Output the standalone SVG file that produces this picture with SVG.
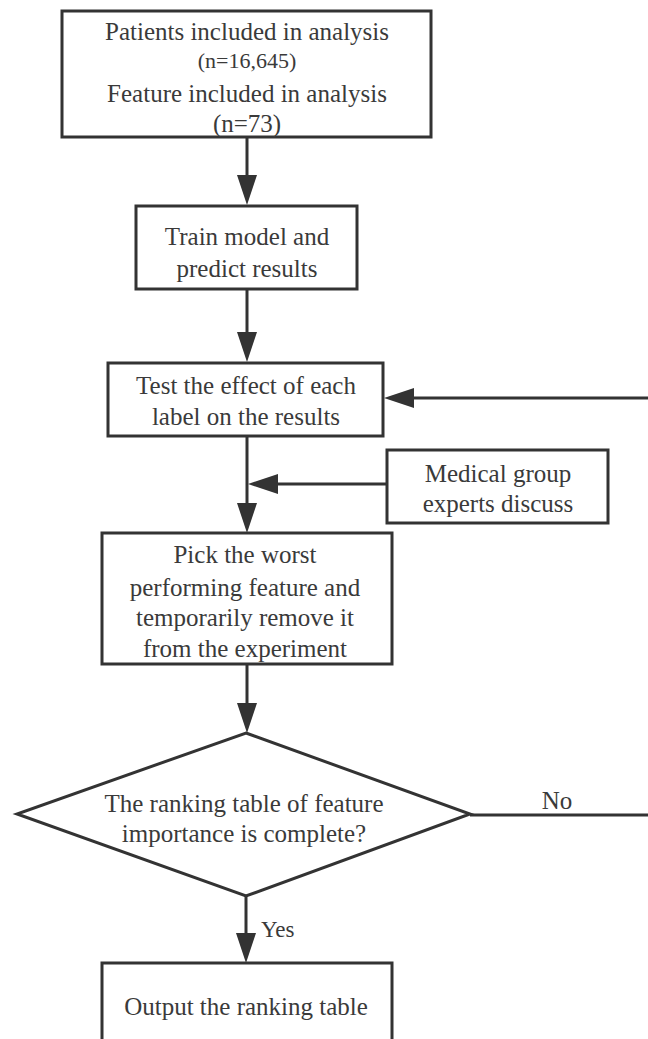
<svg xmlns="http://www.w3.org/2000/svg" width="648" height="1039" viewBox="0 0 648 1039">
<style>
.box{fill:#fff;stroke:#333;stroke-width:3}
.con{fill:none;stroke:#333;stroke-width:3}
text{font-family:"Liberation Serif","Times New Roman",serif;font-size:25px;fill:#3a3a3a;text-anchor:middle}
.sm{font-size:22px}
</style>
<defs>
<marker id="ah" markerUnits="userSpaceOnUse" markerWidth="30" markerHeight="20" refX="20" refY="10" orient="auto" viewBox="0 0 30 20">
<path d="M0,0 L30,10 L0,20 z" fill="#333"/>
</marker>
</defs>
<rect width="648" height="1039" fill="#fff"/>
<g id="connectors">
<line class="con" x1="247" y1="137" x2="247" y2="195" marker-end="url(#ah)"/>
<line class="con" x1="247" y1="289" x2="247" y2="352" marker-end="url(#ah)"/>
<line class="con" x1="247" y1="436" x2="247" y2="523" marker-end="url(#ah)"/>
<line class="con" x1="648" y1="398" x2="394" y2="398" marker-end="url(#ah)"/>
<line class="con" x1="387" y1="484" x2="258" y2="484" marker-end="url(#ah)"/>
<line class="con" x1="247" y1="664" x2="247" y2="723" marker-end="url(#ah)"/>
<line class="con" x1="470" y1="815" x2="650" y2="815"/>
<line class="con" x1="246" y1="896" x2="246" y2="953" marker-end="url(#ah)"/>
<text x="557" y="809">No</text>
<text x="261" y="937" style="text-anchor:start;font-size:23px">Yes</text>
</g>
<g id="n1">
<rect class="box" x="62" y="11" width="369" height="126"/>
<text x="247" y="40">Patients included in analysis</text>
<text class="sm" x="247" y="68">(n=16,645)</text>
<text x="247" y="102">Feature included in analysis</text>
<text x="247" y="132">(n=73)</text>
</g>
<g id="n2">
<rect class="box" x="136" y="206" width="221" height="83"/>
<text x="247" y="245">Train model and</text>
<text x="247" y="277">predict results</text>
</g>
<g id="n3">
<rect class="box" x="108" y="363" width="275" height="73"/>
<text x="246" y="394">Test the effect of each</text>
<text x="246" y="425">label on the results</text>
</g>
<g id="n_med">
<rect class="box" x="387" y="450" width="221" height="73"/>
<text x="498" y="482">Medical group</text>
<text x="498" y="512">experts discuss</text>
</g>
<g id="n4">
<rect class="box" x="102" y="533" width="290" height="131"/>
<text x="245" y="563">Pick the worst</text>
<text x="245" y="596">performing feature and</text>
<text x="245" y="626">temporarily remove it</text>
<text x="245" y="657">from the experiment</text>
</g>
<g id="n5">
<polygon class="box" points="246,733 470,814 246,896 17,814"/>
<text x="244" y="812">The ranking table of feature</text>
<text x="244" y="842">importance is complete?</text>
</g>
<g id="n6">
<rect class="box" x="102" y="963" width="290" height="90"/>
<text x="246" y="1015">Output the ranking table</text>
</g>
</svg>
